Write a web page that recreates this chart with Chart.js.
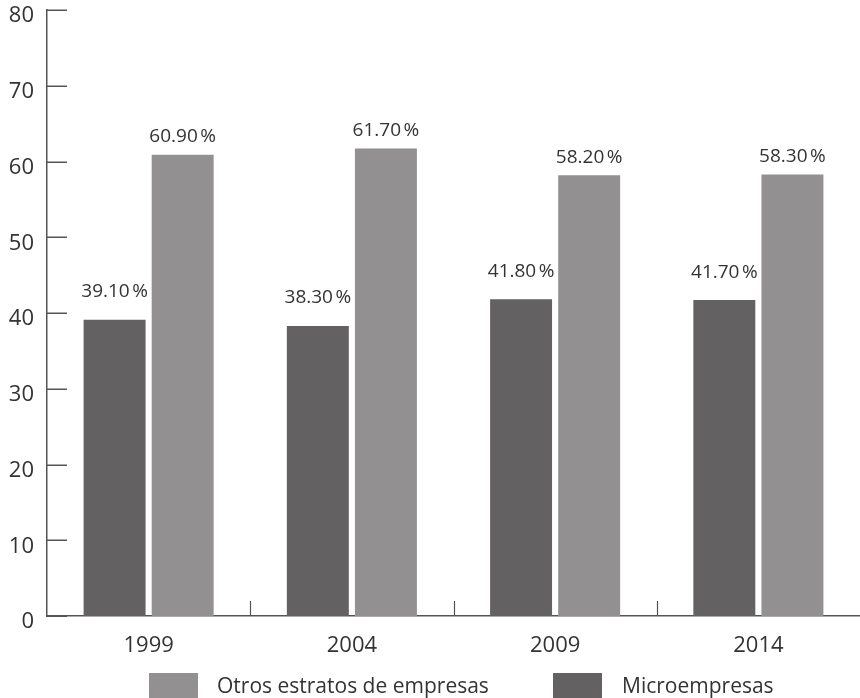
<!DOCTYPE html>
<html>
<head>
<meta charset="utf-8">
<script src="https://cdn.jsdelivr.net/npm/chart.js@4.4.0/dist/chart.umd.min.js"></script>
<style>
html, body { margin: 0; padding: 0; background: #fff; overflow: hidden; }
#wrap { width: 860px; height: 698px; position: relative; }
#legend { position: absolute; left: 0; top: 673px; width: 860px; height: 30px; font-family: "Open Sans", sans-serif; font-size: 21px; color: #333; }
#legend .box { position: absolute; top: 0; width: 49px; height: 28px; }
#legend .txt { position: absolute; top: 0; line-height: 25px; white-space: nowrap; }
</style>
</head>
<body>
<div id="wrap">
  <canvas id="myChart" width="860" height="698"></canvas>
  <div id="legend"></div>
</div>
<script>
var years = ['1999', '2004', '2009', '2014'];
var microValues = [39.1, 38.3, 41.8, 41.7];
var otrosValues = [60.9, 61.7, 58.2, 58.3];
var yTicks = [0, 10, 20, 30, 40, 50, 60, 70, 80];

var FONT = '"Open Sans", sans-serif';
var TEXT = '#333';
var AXIS = '#555';

// small marks drawn inside the plot (the axes ticks point inwards) and the % labels
var marksPlugin = {
    id: 'marks',
    afterDatasetsDraw: function(chart) {
        var ctx = chart.ctx;
        var x = chart.scales.x, y = chart.scales.y;
        var area = chart.chartArea;
        ctx.save();
        ctx.strokeStyle = AXIS;
        ctx.lineWidth = 1.5;
        yTicks.forEach(function(v) {
            var py = Math.round(y.getPixelForValue(v)) + 0.25;
            ctx.beginPath();
            ctx.moveTo(area.left, py);
            ctx.lineTo(area.left + 20, py);
            ctx.stroke();
        });
        ctx.lineWidth = 1.2;
        for (var i = 1; i < years.length; i++) {
            var px = Math.round((x.getPixelForValue(i - 1) + x.getPixelForValue(i)) / 2) + 0.5;
            ctx.beginPath();
            ctx.moveTo(px, area.bottom);
            ctx.lineTo(px, area.bottom - 15);
            ctx.stroke();
        }

        ctx.fillStyle = TEXT;
        ctx.font = '19px ' + FONT;
        ctx.textAlign = 'center';
        ctx.textBaseline = 'middle';
        var offsets = [28, 18];
        chart.data.datasets.forEach(function(ds, di) {
            chart.getDatasetMeta(di).data.forEach(function(bar, j) {
                ctx.fillText(ds.data[j].toFixed(2) + '\u202F%', bar.x, bar.y - offsets[di]);
            });
        });
        ctx.restore();
    }
};

var ctx = document.getElementById('myChart');
var myChart = new Chart(ctx, {
    type: 'bar',
    data: {
        labels: years,
        datasets: [{
            label: 'Microempresas',
            data: microValues,
            backgroundColor: '#636161'
        }, {
            label: 'Otros estratos de empresas',
            data: otrosValues,
            backgroundColor: '#929090'
        }]
    },
    options: {
        responsive: false,
        animation: false,
        categoryPercentage: 0.67,
        barPercentage: 0.91,
        layout: { padding: { top: 10, right: 0, left: 0, bottom: 0 } },
        plugins: {
            legend: { display: false },
            tooltip: { enabled: false }
        },
        scales: {
            x: {
                grid: { display: false, drawTicks: false },
                border: { display: true, color: AXIS, width: 1.5 },
                ticks: { color: TEXT, font: { family: FONT, size: 22 }, padding: 17 },
                afterFit: function(scale) { scale.height = 82; scale.paddingLeft = 0; scale.paddingRight = 0; }
            },
            y: {
                min: 0,
                max: 80,
                afterBuildTicks: function(scale) {
                    scale.ticks = yTicks.map(function(v) { return { value: v }; });
                },
                grid: { display: false, drawTicks: false },
                border: { display: true, color: AXIS, width: 1.5 },
                ticks: { color: TEXT, font: { family: FONT, size: 22 }, padding: 13, labelOffset: 6 },
                afterFit: function(scale) { scale.width = 47; scale.paddingTop = 0; scale.paddingBottom = 0; }
            }
        }
    },
    plugins: [marksPlugin]
});

// legend as html, in the order of the original figure
var legend = document.getElementById('legend');
var boxLeft = [149, 553];
var txtLeft = [217, 622];
myChart.data.datasets.slice().reverse().forEach(function(ds, i) {
    var box = document.createElement('div');
    box.className = 'box';
    box.style.left = boxLeft[i] + 'px';
    box.style.background = ds.backgroundColor;
    var txt = document.createElement('div');
    txt.className = 'txt';
    txt.style.left = txtLeft[i] + 'px';
    txt.textContent = ds.label;
    legend.appendChild(box);
    legend.appendChild(txt);
});
</script>
</body>
</html>
